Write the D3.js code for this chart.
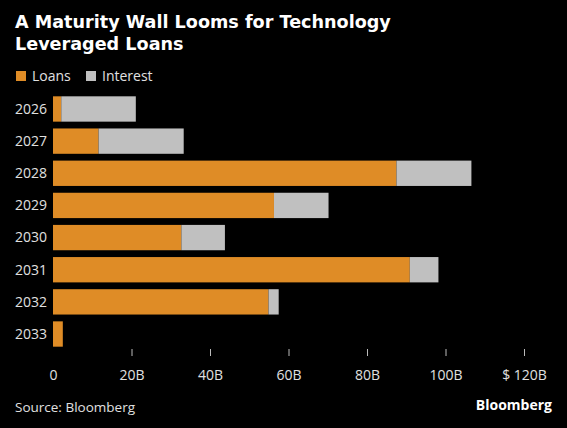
<!DOCTYPE html>
<html>
<head>
<meta charset="utf-8">
<script src="https://cdn.jsdelivr.net/npm/d3@7"></script>
<style>
  body { margin: 0; background: #000; }
  svg { display: block; }
</style>
</head>
<body>
<script>
// maturity years and stacked values ($B)
const years = ["2026", "2027", "2028", "2029", "2030", "2031", "2032", "2033"];
const loans = [2.1, 11.6, 87.5, 56.3, 32.7, 90.9, 54.9, 2.5];
const interest = [19.0, 21.7, 19.1, 13.9, 11.1, 7.3, 2.6, 0];
const tickValues = [0, 20, 40, 60, 80, 100, 120];
const tickLabels = ["0", "20B", "40B", "60B", "80B", "100B", "$ 120B"];
const seriesNames = ["Loans", "Interest"];
const colors = ["#df8c26", "#c0c0c0"];

const W = 567, H = 428;
const font = "'Open Sans', sans-serif";

const svg = d3.select("body").append("svg")
  .attr("width", W)
  .attr("height", H)
  .style("background", "#000");

// title
svg.append("text")
  .attr("x", 15).attr("y", 27.5)
  .attr("fill", "#fff")
  .attr("font-family", "'DejaVu Sans', sans-serif")
  .attr("font-weight", "bold")
  .attr("font-size", 17.6)
  .selectAll("tspan")
  .data(["A Maturity Wall Looms for Technology", "Leveraged Loans"])
  .join("tspan")
  .attr("x", 15)
  .attr("dy", (d, i) => i ? 22 : 0)
  .text(d => d);

// legend
const legendX = [16, 86];
const legend = svg.append("g");
seriesNames.forEach((name, i) => {
  legend.append("rect")
    .attr("x", legendX[i]).attr("y", 71)
    .attr("width", 10).attr("height", 10)
    .attr("fill", colors[i]);
  legend.append("text")
    .attr("x", legendX[i] + 16).attr("y", 81)
    .attr("fill", "#e0e0e0")
    .attr("font-family", font)
    .attr("font-size", 14)
    .text(name);
});

// scales
const x = d3.scaleLinear().domain([0, 120]).range([53, 524]);
const y = d3.scaleBand().domain(years).range([89.5, 353.5]).padding(0.212);

const data = years.map((yr, i) => ({ year: yr, Loans: loans[i], Interest: interest[i] }));
const stacked = d3.stack().keys(seriesNames)(data);

svg.append("g")
  .selectAll("g")
  .data(stacked)
  .join("g")
  .attr("fill", (d, i) => colors[i])
  .selectAll("rect")
  .data(d => d)
  .join("rect")
  .attr("x", d => x(d[0]))
  .attr("y", d => y(d.data.year))
  .attr("width", d => Math.max(0, x(d[1]) - x(d[0])))
  .attr("height", y.bandwidth());

// year labels
svg.append("g")
  .selectAll("text")
  .data(years)
  .join("text")
  .attr("x", 47)
  .attr("y", d => y(d) + y.bandwidth() / 2)
  .attr("dy", "0.35em")
  .attr("text-anchor", "end")
  .attr("fill", "#e0e0e0")
  .attr("font-family", font)
  .attr("font-size", 14)
  .text(d => d);

// x axis
const xAxis = svg.append("g")
  .attr("transform", "translate(0,349)")
  .call(d3.axisBottom(x)
    .tickValues(tickValues)
    .tickSize(7)
    .tickPadding(14)
    .tickFormat((d, i) => tickLabels[i]));

xAxis.select(".domain").remove();
xAxis.selectAll(".tick line")
  .attr("stroke", "#bbb")
  .attr("opacity", d => d === 0 ? 0 : 1);
xAxis.selectAll(".tick text")
  .attr("fill", "#e0e0e0")
  .attr("font-family", font)
  .attr("font-size", 14);

// footer
svg.append("text")
  .attr("x", 15).attr("y", 412)
  .attr("fill", "#e0e0e0")
  .attr("font-family", font)
  .attr("font-size", 13.5)
  .text("Source: Bloomberg");

svg.append("text")
  .attr("x", 552).attr("y", 410)
  .attr("text-anchor", "end")
  .attr("fill", "#fff")
  .attr("font-family", font)
  .attr("font-weight", "bold")
  .attr("font-size", 14)
  .text("Bloomberg");
</script>
</body>
</html>
